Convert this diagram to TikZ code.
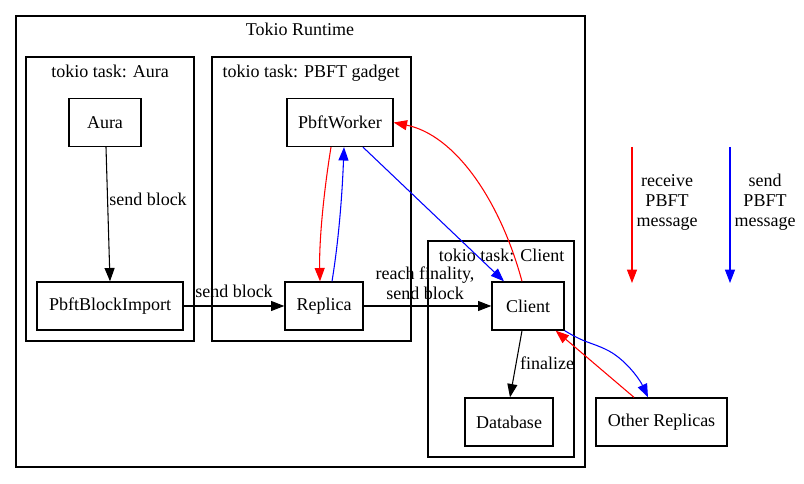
\documentclass[tikz,border=0pt]{standalone}
\usepackage{fontspec}
\setmainfont{Liberation Serif}
\usetikzlibrary{arrows.meta,calc}
\begin{document}
\begin{tikzpicture}[x=0.75pt,y=-0.75pt,
  font=\fontsize{13.5}{15}\selectfont,
  box/.style={draw,line width=1pt,inner sep=0pt,minimum height=36pt},
  frame/.style={draw,line width=1pt},
  edge/.style={line width=0.8pt,-{Triangle[length=10pt,width=7.5pt]}},
  lbl/.style={inner sep=0pt,text height=9pt,text depth=0pt},
  mlbl/.style={inner sep=0pt,align=center}]
\useasboundingbox (0,0) rectangle (804,484);
% clusters
\draw[frame] (16,16) rectangle (585,467);
\draw[frame] (26,57) rectangle (194,341);
\draw[frame] (212,57) rectangle (411,341);
\draw[frame] (428,241) rectangle (574,457);
\node[lbl] (trt) at (300,30) {Tokio Runtime};
\node[lbl] (taura) at (110,72) {tokio task: Aura};
\node[lbl] (tpbft) at (311,72) {tokio task: PBFT gadget};
\node[lbl] (tclient) at (501.5,256) {tokio task: Client};
% nodes
\node[box,minimum width=54pt] (aura) at (105,122.5) {Aura};
\node[box,minimum width=79.5pt] (worker) at (340,122.5) {PbftWorker};
\node[box,minimum width=109.5pt] (pbi) at (110,306) {PbftBlockImport};
\node[box,minimum width=58.5pt] (replica) at (324,306) {Replica};
\node[box,minimum width=54pt] (client) at (528,306) {Client};
\node[box,minimum width=66pt] (db) at (509,422) {Database};
\node[box,minimum width=98.25pt] (other) at (661.5,422) {Other Replicas};
% black edges
\draw[edge] ($(aura.south)+(1,0)$) -- (pbi.north);
\node[lbl] (l1) at (148,200) {send block};
\draw[edge] (pbi.east) -- (replica.west);
\node[lbl] (l2) at (234,292) {send block};
\draw[edge] (replica.east) -- (client.west);
\node[mlbl] (l3) at (425,283) {reach finality,\\send block};
\draw[edge] ($(client.south)+(-6,0)$) -- ($(db.north)+(1,0)$);
\node[lbl] (l4) at (547,364) {finalize};
% red / blue edges
\draw[edge,red] ($(worker.south)+(-9,0)$) .. controls (324,190) and (319,240) .. ($(replica.north)+(-4,0)$);
\draw[edge,blue] ($(replica.north)+(8,0)$) .. controls (338,245) and (342,200) .. ($(worker.south)+(4,0)$);
\draw[edge,blue] ($(worker.south)+(23,0)$) -- ($(client.north)+(-24,0)$);
\draw[edge,red] ($(client.north)+(-6,0)$) .. controls (500,200) and (455,135) .. (worker.east);
\draw[edge,blue] (client.south east) .. controls (585,343) and (590,342) .. (605,349) .. controls (625,358) and (640,380) .. ($(other.north)+(-13.5,0)$);
\draw[edge,red] ($(other.north)+(-27.5,0)$) -- ($(client.south east)+(-9,0)$);
% legend
\coordinate (ra) at (632,147);
\coordinate (rb) at (632,283);
\coordinate (ba) at (730,147);
\coordinate (bb) at (730,283);
\draw[edge,red] (ra) -- (rb);
\draw[edge,blue] (ba) -- (bb);
\node[mlbl] (lr) at (667,202) {receive\\PBFT\\message};
\node[mlbl] (lb) at (765,202) {send\\PBFT\\message};
\end{tikzpicture}
\end{document}
